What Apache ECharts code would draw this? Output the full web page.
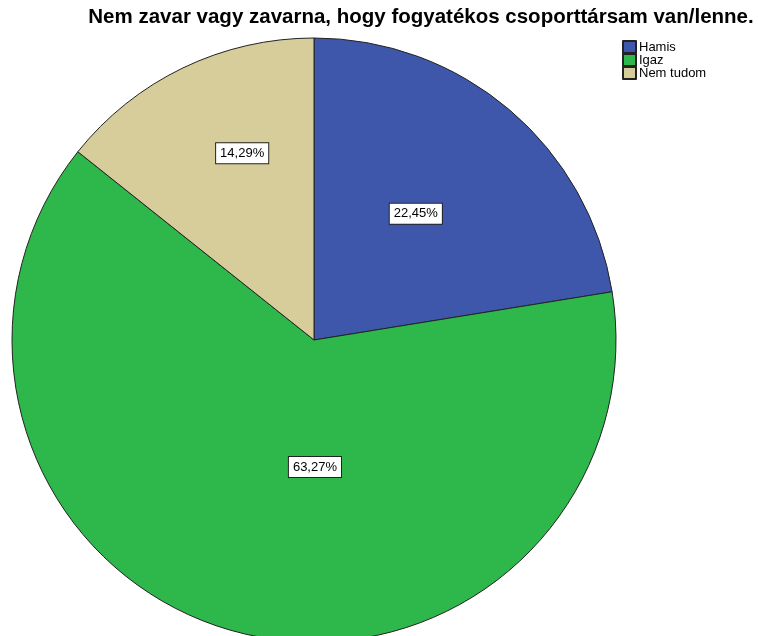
<!DOCTYPE html>
<html><head><meta charset="utf-8">
<script src="https://cdn.jsdelivr.net/npm/echarts@6/dist/echarts.min.js"></script>
<style>html,body{margin:0;padding:0;background:#fff}#c{width:758px;height:636px}</style>
</head><body><div id="c"></div>
<script>
var titleText = 'Nem zavar vagy zavarna, hogy fogyatékos csoporttársam van/lenne.';
var categories = ['Hamis', 'Igaz', 'Nem tudom'];
var values = [22.45, 63.27, 14.29];
var labels = ['22,45%', '63,27%', '14,29%'];
var colors = ['#3F57AB', '#2EB84B', '#D6CD9A'];
var labelOffsets = [[2, -9], [40, -22], [-5, -48]];

var chart = echarts.init(document.getElementById('c'));
chart.setOption({
  animation: false,
  title: {
    text: titleText, left: 416, top: 2, textAlign: 'center',
    textStyle: {fontFamily: 'Liberation Sans, Arial', fontSize: 20.5, fontWeight: 'bold', color: '#000'}
  },
  legend: {
    orient: 'vertical', left: 622, top: 40, padding: 0, itemWidth: 13, itemHeight: 12, itemGap: -1,
    icon: 'rect',
    textStyle: {fontFamily: 'Liberation Sans, Arial', fontSize: 13, lineHeight: 12, color: '#000', padding: [0, 0, 0, -2]},
    data: categories
  },
  series: [{
    type: 'pie', center: [314, 340], radius: 302, startAngle: 90, clockwise: true,
    itemStyle: {borderColor: '#222', borderWidth: 1},
    label: {
      show: true, position: 'inside',
      fontFamily: 'Liberation Sans, Arial', fontSize: 13, color: '#000',
      backgroundColor: '#fff', borderColor: '#222', borderWidth: 1, padding: [4, 4, 3, 4],
      formatter: function (p) { return labels[p.dataIndex]; }
    },
    labelLine: {show: false},
    emphasis: {disabled: true},
    data: categories.map(function (c, i) {
      return {name: c, value: values[i], itemStyle: {color: colors[i]}, label: {offset: labelOffsets[i]}};
    })
  }]
});
</script></body></html>
